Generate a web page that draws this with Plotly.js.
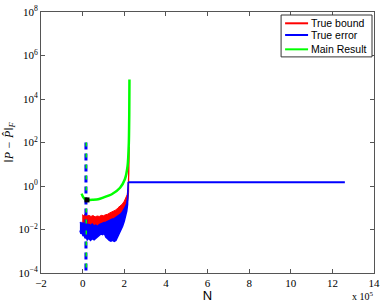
<!DOCTYPE html>
<html>
<head>
<meta charset="utf-8">
<script src="https://cdn.plot.ly/plotly-3.0.1.min.js"></script>
<style>
  html, body { margin: 0; padding: 0; background: #fff; }
  #chart { width: 382px; height: 303px; }
</style>
</head>
<body>
<div id="chart"></div>
<script>
// ---- Data (N in samples; error values stored as log10 exponents) ----
// Main Result curve
const greenN    = [-5000, 2000, 10000, 22000, 50000, 75000, 100000, 140000, 180000, 203000, 216000, 222000, 224000, 225000];
const greenLog  = [-0.35, -0.50, -0.60, -0.64, -0.63, -0.61, -0.53, -0.38, -0.08, 0.31, 0.92, 1.98, 3.30, 4.90];

// True error band (noisy): upper / lower envelope
const blueN        = [-13000, -8000, -3000, 2000, 7000, 12000, 17000, 22000, 30000, 38000, 46000, 55000, 63000, 72000, 80000, 88000, 96000, 104000, 112000, 120000, 128000, 136000, 144000, 152000, 160000, 168000, 176000, 184000, 192000, 200000, 206000, 212000, 216000, 219000];
const blueUpperLog = [-1.72, -1.68, -1.74, -1.70, -1.73, -1.78, -1.72, -1.80, -1.76, -1.82, -1.75, -1.84, -1.80, -1.86, -1.78, -1.74, -1.72, -1.68, -1.66, -1.62, -1.60, -1.55, -1.52, -1.50, -1.45, -1.40, -1.34, -1.28, -1.18, -1.08, -0.95, -0.80, -0.55, 0.18];
const blueLowerLog = [-2.05, -2.20, -2.12, -2.30, -2.22, -2.40, -2.35, -2.48, -2.40, -2.50, -2.42, -2.47, -2.38, -2.30, -2.26, -2.20, -2.24, -2.18, -2.36, -2.42, -2.50, -2.54, -2.50, -2.55, -2.50, -2.35, -2.15, -2.02, -1.85, -1.62, -1.42, -1.15, -0.85, -0.45];

// True bound band (noisy)
const redN        = [-2000, 5000, 12000, 20000, 30000, 40000, 50000, 60000, 70000, 80000, 90000, 100000, 110000, 120000, 130000, 140000, 150000, 160000, 170000, 180000, 190000, 200000, 208000, 214000, 218000, 221000, 223000, 224000];
const redUpperLog = [-1.32, -1.36, -1.30, -1.38, -1.35, -1.40, -1.36, -1.42, -1.38, -1.40, -1.35, -1.37, -1.32, -1.30, -1.24, -1.20, -1.16, -1.10, -1.00, -0.94, -0.84, -0.70, -0.55, -0.40, -0.10, 0.50, 1.80, 0.18];
const redLowerLog = [-1.95, -1.95, -1.95, -1.95, -1.95, -1.95, -1.95, -1.95, -1.95, -1.95, -1.95, -1.95, -1.95, -1.95, -1.90, -1.85, -1.80, -1.75, -1.65, -1.55, -1.45, -1.30, -1.10, -0.90, -0.60, -0.30, 0.00, 0.18];

// Saturated plateau of the true error after the blow-up
const plateauN   = [219000, 1260000];
const plateauVal = [1.5, 1.5];

// Vertical dashed marker and the highlighted point
const markerN     = [16000, 16000];
const markerVal   = [100, 0.0001];
const dotN        = [21000];
const dotVal      = [0.229];

// Axis ticks
const xTickVals = [-200000, 0, 200000, 400000, 600000, 800000, 1000000, 1200000, 1400000];
const xTickText = ['−2', '0', '2', '4', '6', '8', '10', '12', '14'];
const yTickVals = [1e-4, 1e-2, 1, 1e2, 1e4, 1e6, 1e8];
const yTickText = ['10<sup>−4</sup>', '10<sup>−2</sup>', '10<sup>0</sup>', '10<sup>2</sup>', '10<sup>4</sup>', '10<sup>6</sup>', '10<sup>8</sup>'];

// Legend
const legendNames  = ['True bound', 'True error', 'Main Result'];

// ---- Build traces ----
const p10 = a => a.map(v => Math.pow(10, v));
function band(xs, upLog, loLog) {
  const x = xs.concat(xs.slice().reverse());
  const y = p10(upLog).concat(p10(loLog).slice().reverse());
  return {x, y};
}
const redBand = band(redN, redUpperLog, redLowerLog);
const blueBand = band(blueN, blueUpperLog, blueLowerLog);

const RED = '#ff0000', BLUE = '#0000ff', GREEN = '#00ff00';
const legendColors = [RED, BLUE, GREEN];

const traces = [
  {x: redBand.x, y: redBand.y, mode: 'lines', fill: 'toself', fillcolor: RED, line: {color: RED, width: 1}, name: legendNames[0]},
  {x: blueBand.x, y: blueBand.y, mode: 'lines', fill: 'toself', fillcolor: BLUE, line: {color: BLUE, width: 1.5}, name: legendNames[1]},
  {x: plateauN, y: plateauVal, mode: 'lines', line: {color: BLUE, width: 2}, name: legendNames[1]},
  {x: markerN, y: markerVal, mode: 'lines', line: {color: BLUE, width: 3, dash: '7px,4px'}, name: 'marker'},
  {x: markerN.map(v => v + 1500), y: markerVal, mode: 'lines', line: {color: GREEN, width: 1.5, dash: '4px,7px'}, name: 'marker'},
  {x: greenN, y: p10(greenLog), mode: 'lines', line: {color: GREEN, width: 2.5, shape: 'spline', smoothing: 0.6}, name: legendNames[2]},
  {x: dotN, y: dotVal, mode: 'markers', marker: {color: '#000', size: 5, symbol: 'square'}, name: 'point'}
];

const axisCommon = {
  showline: true, linecolor: '#555', linewidth: 1, mirror: 'ticks',
  ticks: 'inside', ticklen: 4, tickcolor: '#555', tickwidth: 1,
  showgrid: false, zeroline: false,
  tickfont: {family: 'Liberation Serif', size: 11, color: '#000'}
};

// Legend drawn as a boxed key in paper coordinates (MATLAB-style compact legend)
const legTop = 0.9885, legBottom = 0.828, legLeft = 0.721, legRight = 0.994;
const rowY = [0.9567, 0.9119, 0.857];
const shapes = [
  {type: 'rect', xref: 'paper', yref: 'paper', x0: legLeft, x1: legRight, y0: legBottom, y1: legTop,
   line: {color: '#333', width: 1}, fillcolor: '#fff', layer: 'above'}
];
const annotations = [];
legendNames.forEach((nm, i) => {
  shapes.push({type: 'line', xref: 'paper', yref: 'paper', x0: 0.733, x1: 0.802, y0: rowY[i], y1: rowY[i],
               line: {color: legendColors[i], width: 2}, layer: 'above'});
  annotations.push({xref: 'paper', yref: 'paper', x: 0.806, y: rowY[i], xanchor: 'left', yanchor: 'middle',
                    showarrow: false, text: nm, font: {family: 'Liberation Sans', size: 10.5, color: '#000'}});
});
annotations.push({xref: 'paper', yref: 'paper', x: 1.005, y: -0.088, xanchor: 'right', yanchor: 'middle', showarrow: false,
  text: 'x 10<sup>5</sup>', font: {family: 'Liberation Serif', size: 10, color: '#000'}});

const layout = {
  width: 382, height: 303,
  margin: {l: 41, r: 8, t: 12, b: 30, pad: 0},
  paper_bgcolor: '#fff', plot_bgcolor: '#fff',
  showlegend: false,
  xaxis: Object.assign({}, axisCommon, {
    range: [-200000, 1400000], tickvals: xTickVals, ticktext: xTickText,
    title: {text: 'N', font: {family: 'Liberation Sans', size: 13, color: '#000'}, standoff: 1},
    automargin: false
  }),
  yaxis: Object.assign({}, axisCommon, {
    type: 'log', range: [-4, 8], tickvals: yTickVals, ticktext: yTickText,
    title: {text: '<i>‖P − P̂‖<sub>F</sub></i>', font: {family: 'Liberation Serif', size: 12, color: '#000'}, standoff: 2},
    automargin: false
  }),
  shapes: shapes,
  annotations: annotations
};

Plotly.newPlot('chart', traces, layout, {displayModeBar: false, staticPlot: true});
</script>
</body>
</html>
